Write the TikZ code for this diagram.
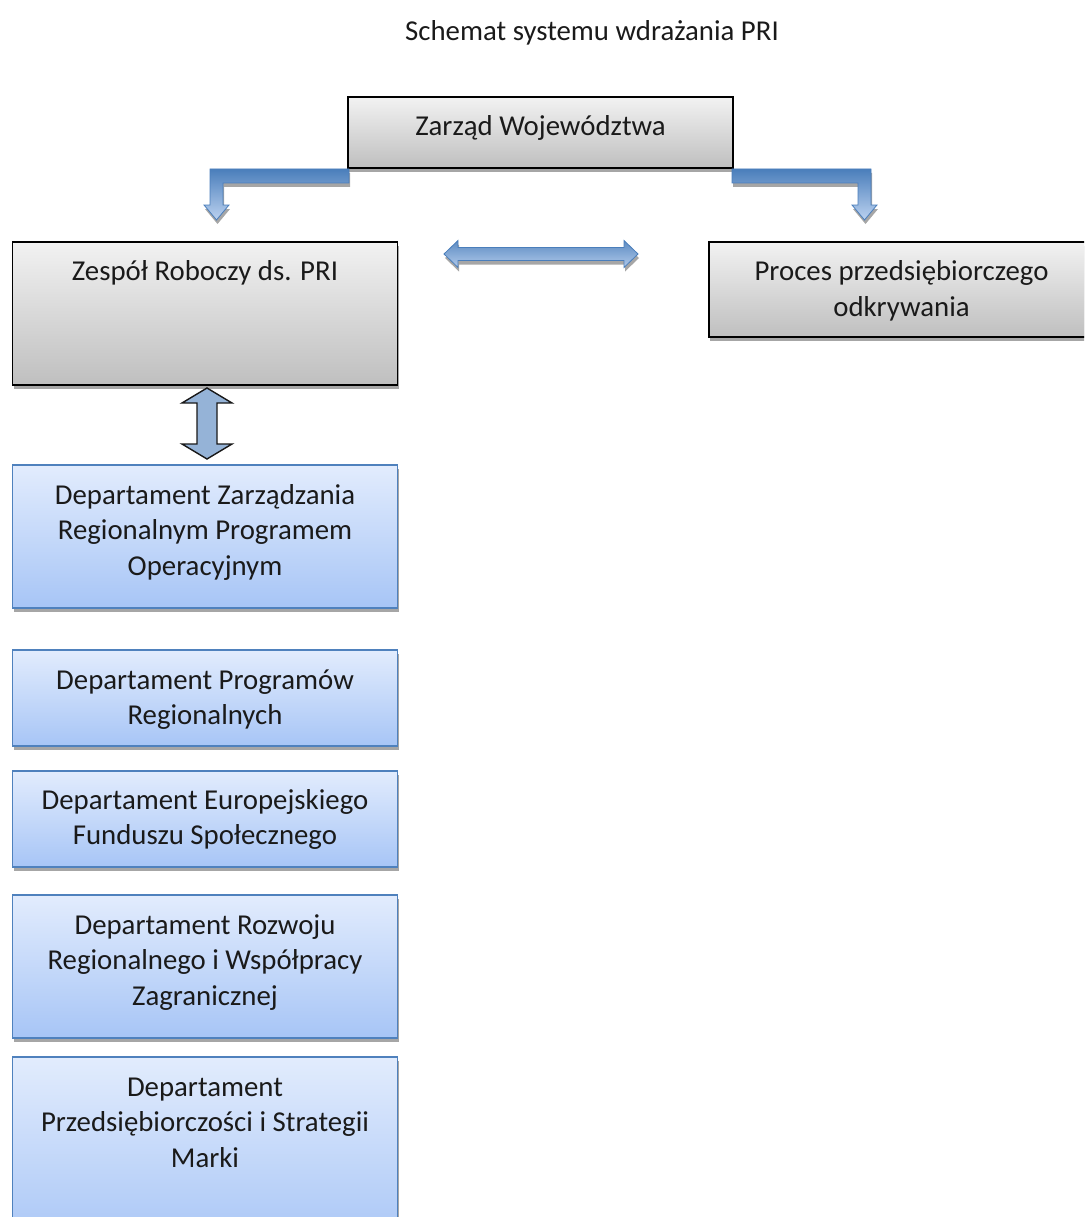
\documentclass[tikz,border=0pt]{standalone}
\usepackage{fontspec}
\setmainfont{Carlito}
\usetikzlibrary{shadows}
\definecolor{grayTop}{HTML}{F2F2F2}
\definecolor{grayBot}{HTML}{BFBFBF}
\definecolor{blueTop}{HTML}{E2ECFD}
\definecolor{blueBot}{HTML}{A7C5F6}
\definecolor{blueEdge}{HTML}{4F81BD}
\definecolor{arrowDark}{HTML}{4A7EBB}
\definecolor{arrowLight}{HTML}{BCD2F0}
\definecolor{arrowFill}{HTML}{95B3D7}
\definecolor{shadowGray}{HTML}{A6A6A6}
\definecolor{txtCol}{HTML}{1A1A1A}
\newcommand\mystrut{\rule[-7pt]{0pt}{28pt}}
\begin{document}
\begin{tikzpicture}[x=1pt,y=-1pt,
  boxshadow/.style={general shadow={fill=shadowGray, shadow xshift=1pt, shadow yshift=-4pt}},
  graybox/.style={draw=black, line width=1.6pt, top color=grayTop, bottom color=grayBot,
    minimum width=385pt, inner sep=0pt, boxshadow},
  bluebox/.style={draw=blueEdge, line width=1.6pt, top color=blueTop, bottom color=blueBot,
    minimum width=385pt, inner sep=0pt, boxshadow},
  txt/.style={inner sep=0pt, align=center, text=txtCol,
    font=\fontsize{28.8}{35.5}\selectfont},
  bentarrow/.style={draw=arrowDark, line width=0.8pt, top color=arrowDark, bottom color=arrowLight},
  harrow/.style={draw=arrowDark, line width=0.8pt, top color=arrowDark!90, bottom color=arrowLight!90!arrowDark},
  arrowshadow/.style={fill=shadowGray},
  varrow/.style={draw=black!90, line width=1.4pt, fill=arrowFill, line join=miter}
]
\useasboundingbox (0,0) rectangle (1084,1217);
\clip (0,0) rectangle (1084,1217);

% title
\node[txt] (title) at (592,34) {\mystrut Schemat systemu wdrażania PRI};

% boxes
\node[graybox, minimum height=71pt] (zarzad) at (540.5,132.5) {};
\node[graybox, minimum height=143pt] (zespol) at (205,313.5) {};
\node[graybox, minimum height=95pt] (proces) at (901.5,289.5) {};
\node[bluebox, minimum height=143pt] (zrpo) at (205,536.5) {};
\node[bluebox, minimum height=96pt] (prog) at (205,698) {};
\node[bluebox, minimum height=96pt] (efs) at (205,819) {};
\node[bluebox, minimum height=143pt] (rozw) at (205,966.5) {};
\node[bluebox, minimum height=193pt] (psm) at (205,1153.5) {};

% texts
\node[txt] (tzarzad) at (540.5,129) {\mystrut Zarząd Województwa};
\node[txt] (tzespol) at (205,273) {\mystrut Zespół Roboczy ds. PRI};
\node[txt] (tproces) at (901.5,291.5) {\mystrut Proces przedsiębiorczego\\\mystrut odkrywania};
\node[txt] (tzrpo) at (205,532.5) {\mystrut Departament Zarządzania\\\mystrut Regionalnym Programem\\\mystrut Operacyjnym};
\node[txt] (tprog) at (205,700) {\mystrut Departament Programów\\\mystrut Regionalnych};
\node[txt] (tefs) at (205,820) {\mystrut Departament Europejskiego\\\mystrut Funduszu Społecznego};
\node[txt] (trozw) at (205,962.5) {\mystrut Departament Rozwoju\\\mystrut Regionalnego i Współpracy\\\mystrut Zagranicznej};
\node[txt] (tpsm) at (205,1124.5) {\mystrut Departament\\\mystrut Przedsiębiorczości i Strategii\\\mystrut Marki};

% left bent arrow (Zarzad -> Zespol)
\begin{scope}[shift={(1,4)}]
\path[arrowshadow] (349,169) -- (210,169) -- (210,205) -- (204,205) -- (216.5,220) -- (229,205) -- (223,205) -- (223,183) -- (349,183) -- cycle;
\end{scope}
\path[bentarrow] (349,169) -- (210,169) -- (210,205) -- (204,205) -- (216.5,220) -- (229,205) -- (223,205) -- (223,183) -- (349,183) -- cycle;

% right bent arrow (Zarzad -> Proces)
\begin{scope}[shift={(1,4)}]
\path[arrowshadow] (732,169) -- (871,169) -- (871,205) -- (877,205) -- (864.5,220) -- (852,205) -- (858,205) -- (858,183) -- (732,183) -- cycle;
\end{scope}
\path[bentarrow] (732,169) -- (871,169) -- (871,205) -- (877,205) -- (864.5,220) -- (852,205) -- (858,205) -- (858,183) -- (732,183) -- cycle;

% horizontal double arrow (Zespol <-> Proces)
\begin{scope}[shift={(1,4)}]
\path[arrowshadow] (444,254) -- (458,240.5) -- (458,247.5) -- (624,247.5) -- (624,240.5) -- (638,254) -- (624,267.5) -- (624,260.5) -- (458,260.5) -- (458,267.5) -- cycle;
\end{scope}
\path[harrow] (444,254) -- (458,240.5) -- (458,247.5) -- (624,247.5) -- (624,240.5) -- (638,254) -- (624,267.5) -- (624,260.5) -- (458,260.5) -- (458,267.5) -- cycle;

% vertical double arrow (Zespol <-> ZRPO)
\path[varrow] (207,388) -- (232,403) -- (217,403) -- (217,444) -- (232,444) -- (207,459) -- (182,444) -- (197,444) -- (197,403) -- (182,403) -- cycle;

\end{tikzpicture}
\end{document}
